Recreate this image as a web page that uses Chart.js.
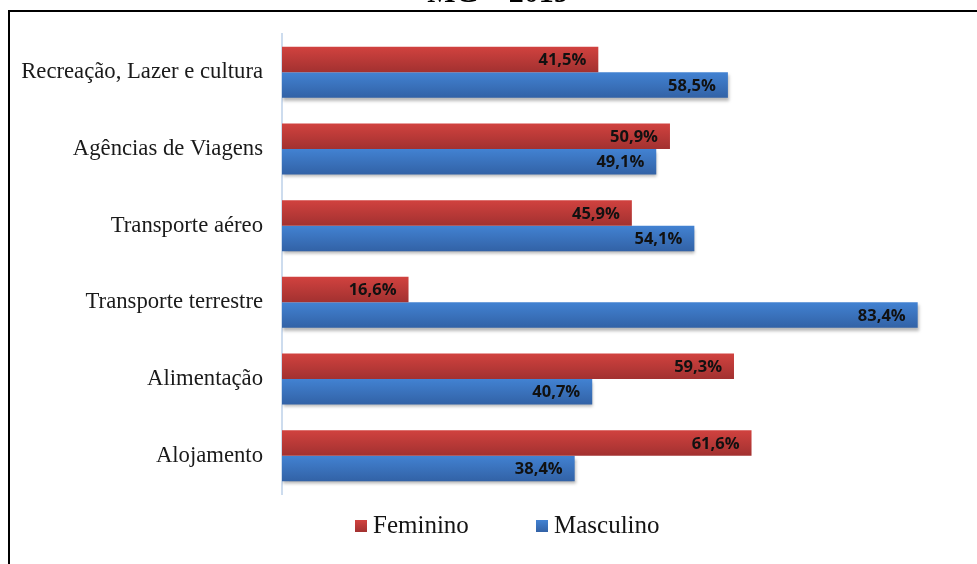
<!DOCTYPE html>
<html>
<head>
<meta charset="utf-8">
<script src="https://cdn.jsdelivr.net/npm/chart.js@4"></script>
<style>
  html, body { margin: 0; padding: 0; background: #ffffff; }
  #wrap { width: 977px; height: 564px; position: relative; }
</style>
</head>
<body>
<div id="wrap"><canvas id="c" width="977" height="564"></canvas></div>
<script>
const titleText = 'MG – 2019';
const categories = ['Recreação, Lazer e cultura', 'Agências de Viagens', 'Transporte aéreo', 'Transporte terrestre', 'Alimentação', 'Alojamento'];
const seriesNames = ['Feminino', 'Masculino'];
const feminino = [41.5, 50.9, 45.9, 16.6, 59.3, 61.6];
const masculino = [58.5, 49.1, 54.1, 83.4, 40.7, 38.4];

const gradStops = [
  ['#d1423f', '#a23130'],
  ['#4282d2', '#3262a6']
];

const gradientPlugin = {
  id: 'gradients',
  beforeDatasetsDraw(chart) {
    const ctx = chart.ctx;
    chart.data.datasets.forEach((ds, di) => {
      const meta = chart.getDatasetMeta(di);
      meta.data.forEach(el => {
        const p = el.getProps(['y', 'height'], true);
        const g = ctx.createLinearGradient(0, p.y - p.height / 2, 0, p.y + p.height / 2);
        g.addColorStop(0, gradStops[di][0]);
        g.addColorStop(1, gradStops[di][1]);
        el.options = Object.assign({}, el.options, { backgroundColor: g });
      });
    });
  },
  beforeDatasetDraw(chart, args) {
    const ctx = chart.ctx;
    ctx.save();
    if (args.index === 1) {
      ctx.shadowColor = 'rgba(0,0,0,0.28)';
      ctx.shadowOffsetY = 3;
      ctx.shadowOffsetX = 1;
      ctx.shadowBlur = 3;
    }
  },
  afterDatasetDraw(chart) {
    chart.ctx.restore();
  }
};

const labelPlugin = {
  id: 'valueLabels',
  afterDatasetsDraw(chart) {
    const ctx = chart.ctx;
    ctx.save();
    ctx.font = 'bold 16.5px "Open Sans", "Noto Sans", sans-serif';
    ctx.fillStyle = '#111111';
    ctx.textAlign = 'right';
    ctx.textBaseline = 'middle';
    chart.data.datasets.forEach((ds, di) => {
      const meta = chart.getDatasetMeta(di);
      meta.data.forEach((el, i) => {
        const p = el.getProps(['x', 'y'], true);
        const txt = ds.data[i].toFixed(1).replace('.', ',') + '%';
        ctx.fillText(txt, p.x - 12, p.y + 1);
      });
    });
    ctx.restore();
  }
};

const framePlugin = {
  id: 'frame',
  beforeDraw(chart) {
    const ctx = chart.ctx;
    ctx.save();
    ctx.fillStyle = '#ffffff';
    ctx.fillRect(0, 0, chart.width, chart.height);
    ctx.restore();
  },
  afterDraw(chart) {
    const ctx = chart.ctx;
    ctx.save();
    // title (clipped at top)
    ctx.font = 'bold 30px "Liberation Serif", "Times New Roman", serif';
    ctx.fillStyle = '#000000';
    ctx.textAlign = 'center';
    ctx.textBaseline = 'alphabetic';
    ctx.fillText(titleText, 498, 2);
    // border lines
    ctx.fillStyle = '#000000';
    ctx.fillRect(8, 10, chart.width - 8, 2);
    ctx.fillRect(8, 10, 2, chart.height - 10);
    // legend
    ctx.font = '25px "Liberation Serif", "Times New Roman", serif';
    ctx.textAlign = 'left';
    ctx.textBaseline = 'alphabetic';
    const boxX = [355, 536];
    chart.data.datasets.forEach((ds, di) => {
      const bx = boxX[di], by = 520, bs = 12;
      const g = ctx.createLinearGradient(0, by, 0, by + bs);
      g.addColorStop(0, gradStops[di][0]);
      g.addColorStop(1, gradStops[di][1]);
      ctx.fillStyle = g;
      ctx.fillRect(bx, by, bs, bs);
      ctx.fillStyle = '#141414';
      ctx.fillText(ds.label, bx + bs + 6, 533);
    });
    ctx.restore();
  }
};

new Chart(document.getElementById('c'), {
  type: 'bar',
  data: {
    labels: categories,
    datasets: [
      { label: seriesNames[0], data: feminino, backgroundColor: gradStops[0][0] },
      { label: seriesNames[1], data: masculino, backgroundColor: gradStops[1][0] }
    ]
  },
  options: {
    indexAxis: 'y',
    responsive: false,
    animation: false,
    devicePixelRatio: 1,
    categoryPercentage: 0.665,
    barPercentage: 1,
    layout: { padding: { left: 12, right: 9, top: 34, bottom: 70 } },
    plugins: {
      legend: { display: false },
      title: { display: false },
      tooltip: { enabled: false }
    },
    scales: {
      x: { display: false, min: 0, max: 90 },
      y: {
        afterFit(axis) { axis.width = 270; },
        grid: { display: false, drawTicks: false },
        border: { display: true, color: '#cddcee', width: 2 },
        ticks: {
          padding: 19,
          color: '#1a1a1a',
          font: { family: '"Liberation Serif", "Times New Roman", serif', size: 22.7 }
        }
      }
    }
  },
  plugins: [framePlugin, gradientPlugin, labelPlugin]
});
</script>
</body>
</html>
